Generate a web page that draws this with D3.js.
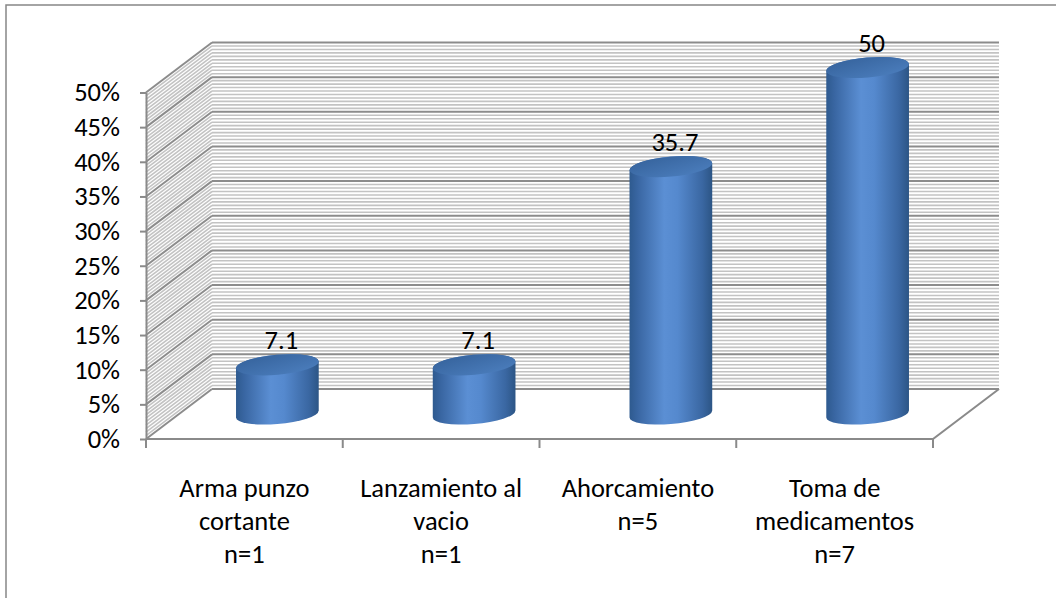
<!DOCTYPE html>
<html>
<head>
<meta charset="utf-8">
<script src="https://cdn.jsdelivr.net/npm/d3@7"></script>
<style>
  body { margin: 0; background: #fff; }
  svg { display: block; }
  text { font-family: Calibri, Carlito, Lato, sans-serif; fill: #000; }
</style>
</head>
<body>
<div id="chart"></div>
<script>
var width = 1056, height = 598;

// data
var categories = ["Arma punzo cortante", "Lanzamiento al vacio", "Ahorcamiento", "Toma de medicamentos"];
var labelLines = [["Arma punzo", "cortante", "n=1"], ["Lanzamiento al", "vacio", "n=1"], ["Ahorcamiento", "n=5"], ["Toma de", "medicamentos", "n=7"]];
var values = [7.1, 7.1, 35.7, 50];
var yTicks = [0, 5, 10, 15, 20, 25, 30, 35, 40, 45, 50];

// 3d layout
var front = {left: 146, right: 933, bottom: 439, top: 92.5};
var depth = {dx: 66, dy: -50};
var tilt = -5;
var fontSize = '26.5px';

var svg = d3.select('#chart').append('svg')
    .attr('width', width)
    .attr('height', height);

// outer frame (cropped on the right and bottom)
svg.append('rect')
    .attr('x', 6).attr('y', 5)
    .attr('width', 1100).attr('height', 700)
    .attr('fill', 'none')
    .attr('stroke', '#878787')
    .attr('stroke-width', 1.5);

var yScale = d3.scaleLinear()
    .domain([0, 50])
    .range([front.bottom, front.top]);

var xScale = d3.scaleBand()
    .domain(categories)
    .range([front.left, front.right])
    .padding(0);

var defs = svg.append('defs');
var sideGrad = defs.append('linearGradient').attr('id', 'cylSide')
    .attr('x1', '0%').attr('x2', '100%').attr('y1', '0%').attr('y2', '0%');
[[0, '#2e5a8f'], [0.1, '#3966a2'], [0.42, '#5b8fd4'], [0.58, '#5589ce'], [0.88, '#3a67a2'], [1, '#2c5585']]
  .forEach(function(s) { sideGrad.append('stop').attr('offset', s[0]).attr('stop-color', s[1]); });
var topGrad = defs.append('linearGradient').attr('id', 'cylTop')
    .attr('x1', '0%').attr('x2', '80%').attr('y1', '0%').attr('y2', '100%');
[[0, '#35629b'], [1, '#4a7cbb']]
  .forEach(function(s) { topGrad.append('stop').attr('offset', s[0]).attr('stop-color', s[1]); });

// gridlines every 0.5 on back wall and side wall
var grid = svg.append('g');
var gridVals = d3.range(0, 50.01, 0.5);
gridVals.forEach(function(v) {
  var major = Math.abs(v / 5 - Math.round(v / 5)) < 1e-6;
  var yf = yScale(v);
  var col = major ? '#8c8c8c' : '#c3c3c3';
  // side wall
  grid.append('line')
      .attr('x1', front.left).attr('y1', yf)
      .attr('x2', front.left + depth.dx).attr('y2', yf + depth.dy)
      .attr('stroke', col).attr('stroke-width', major ? 2 : 1.6);
  // back wall
  grid.append('line')
      .attr('x1', front.left + depth.dx).attr('y1', yf + depth.dy)
      .attr('x2', front.right + depth.dx).attr('y2', yf + depth.dy)
      .attr('stroke', col).attr('stroke-width', major ? 2 : 1.6);
});

// floor outline
var floorCol = '#8a8a8a';
svg.append('path')
    .attr('d', 'M' + front.left + ',' + front.bottom +
               'L' + front.right + ',' + front.bottom +
               'L' + (front.right + depth.dx) + ',' + (front.bottom + depth.dy))
    .attr('fill', 'none')
    .attr('stroke', floorCol)
    .attr('stroke-width', 2);

// category ticks at band edges
var edges = categories.map(function(c) { return xScale(c); }).concat([front.right]);
svg.selectAll('.ctick')
    .data(edges)
    .enter().append('line')
      .attr('class', 'ctick')
      .attr('x1', function(d) { return d; })
      .attr('x2', function(d) { return d; })
      .attr('y1', front.bottom)
      .attr('y2', front.bottom + 9)
      .attr('stroke', floorCol)
      .attr('stroke-width', 2);

// y axis
var yAxis = svg.append('g')
    .attr('transform', 'translate(' + front.left + ',0)')
    .call(d3.axisLeft(yScale)
        .tickValues(yTicks)
        .tickSize(6)
        .tickSizeOuter(0)
        .tickPadding(20)
        .tickFormat(function(d) { return d + '%'; }));
yAxis.select('.domain').attr('stroke', floorCol).attr('stroke-width', 2);
yAxis.selectAll('.tick line').attr('stroke', floorCol).attr('stroke-width', 2);
yAxis.selectAll('.tick text')
    .style('font-size', fontSize)
    .style('font-family', 'Calibri, Carlito, Lato, sans-serif')
    .attr('fill', '#000');

// cylinders
function ellPoint(cx, cy, rx, ry, th, t) {
  var c = Math.cos(th), s = Math.sin(th);
  return [cx + rx * Math.cos(t) * c - ry * Math.sin(t) * s,
          cy + rx * Math.cos(t) * s + ry * Math.sin(t) * c];
}

function cylPath(cx, yTop, yBot, rx, ry, deg) {
  var th = deg * Math.PI / 180;
  var t0 = Math.atan(-(ry / rx) * Math.tan(th));
  var rt = ellPoint(cx, yTop, rx, ry, th, t0);
  var lt = ellPoint(cx, yTop, rx, ry, th, t0 + Math.PI);
  var rb = ellPoint(cx, yBot, rx, ry, th, t0);
  var lb = ellPoint(cx, yBot, rx, ry, th, t0 + Math.PI);
  return 'M' + lt + 'L' + lb +
         'A' + rx + ',' + ry + ' ' + deg + ' 0 0 ' + rb +
         'L' + rt +
         'A' + rx + ',' + ry + ' ' + deg + ' 0 0 ' + lt + 'Z';
}

var rx = 41.5, ry = 10;
var midDx = depth.dx / 2, midDy = depth.dy / 2;

var bars = svg.selectAll('.bar')
    .data(values)
    .enter().append('g')
      .attr('class', 'bar');

bars.append('path')
    .attr('d', function(d, i) {
      var cx = xScale(categories[i]) + xScale.bandwidth() / 2 + midDx;
      return cylPath(cx, yScale(d) + midDy, yScale(0) + midDy, rx, ry, tilt);
    })
    .attr('fill', 'url(#cylSide)');

bars.append('ellipse')
    .attr('cx', function(d, i) { return xScale(categories[i]) + xScale.bandwidth() / 2 + midDx; })
    .attr('cy', function(d) { return yScale(d) + midDy; })
    .attr('rx', rx)
    .attr('ry', ry)
    .attr('transform', function(d, i) {
      var cx = xScale(categories[i]) + xScale.bandwidth() / 2 + midDx;
      return 'rotate(' + tilt + ',' + cx + ',' + (yScale(d) + midDy) + ')';
    })
    .attr('fill', 'url(#cylTop)');

// value labels, sitting on the back plane
svg.selectAll('.vlabel')
    .data(values)
    .enter().append('text')
      .attr('class', 'vlabel')
      .attr('x', function(d, i) { return xScale(categories[i]) + xScale.bandwidth() / 2 + midDx + 4; })
      .attr('y', function(d) { return yScale(d) + depth.dy; })
      .attr('dy', '0.35em')
      .attr('text-anchor', 'middle')
      .style('font-size', fontSize)
      .text(function(d) { return d; });

// category labels
var cl = svg.selectAll('.clabel')
    .data(labelLines)
    .enter().append('text')
      .attr('class', 'clabel')
      .attr('text-anchor', 'middle')
      .style('font-size', fontSize);

cl.selectAll('tspan')
    .data(function(d, i) { return d.map(function(t) { return {t: t, i: i}; }); })
    .enter().append('tspan')
      .attr('x', function(d) { return xScale(categories[d.i]) + xScale.bandwidth() / 2; })
      .attr('y', function(d, j) { return 496.5 + j * 33.2; })
      .text(function(d) { return d.t; });
</script>
</body>
</html>
